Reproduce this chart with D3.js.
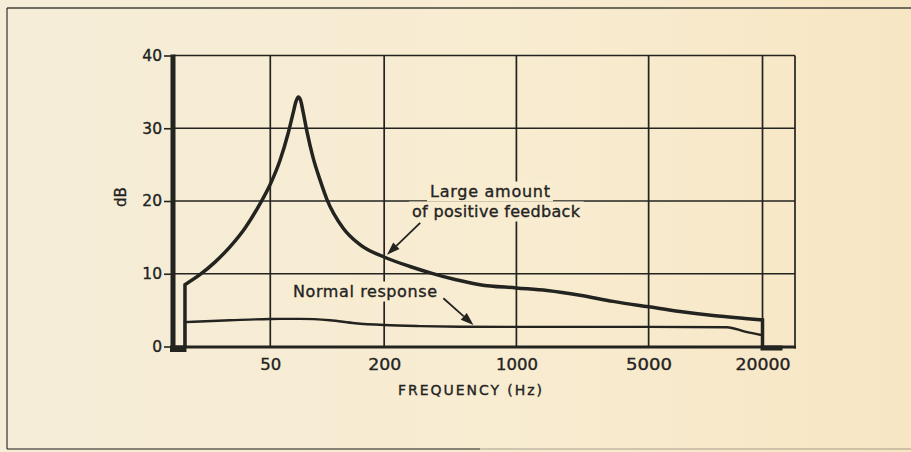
<!DOCTYPE html>
<html>
<head>
<meta charset="utf-8">
<script src="https://cdn.jsdelivr.net/npm/d3@7"></script>
<style>
  html, body { margin: 0; padding: 0; background: #f6ead0; }
  svg { display: block; }
  text { font-family: "DejaVu Sans", sans-serif; fill: #23231f; stroke: #23231f; stroke-width: 0.35px; }
</style>
</head>
<body>
<svg id="chart" width="911" height="452"></svg>
<script>
// Amplifier frequency response: normal vs. a large amount of positive feedback
const feedbackFreq = [17.7, 21.3, 25.5, 30.6, 36.8, 44.1, 50, 56.3, 62, 65.9, 68.4, 70.3, 72.2, 74.5, 78.2, 84.1, 91.6, 99.7, 121.2, 149, 204, 274, 358, 474, 642, 1000, 1451, 2169, 3240, 5000, 7325, 10950, 16160, 20000];
const feedbackDb   = [8.5, 9.9, 11.6, 13.7, 16.3, 19.6, 22.3, 25.6, 29.2, 32.0, 33.7, 34.3, 33.9, 32.3, 29.5, 26.0, 22.9, 20.2, 16.3, 14.0, 12.2, 11.0, 10.05, 9.2, 8.5, 8.05, 7.7, 7.05, 6.2, 5.45, 4.8, 4.25, 3.85, 3.65];

const normalFreq = [17.7, 30.6, 50, 71.8, 103.4, 140.3, 200, 309, 503, 1000, 5000, 12985, 16160, 20000];
const normalDb   = [3.35, 3.6, 3.78, 3.8, 3.6, 3.2, 2.95, 2.8, 2.72, 2.7, 2.7, 2.65, 2.05, 1.55];

const freqTicks = [50, 200, 1000, 5000, 20000];
const freqTickWidths = [21, 33, 42, 46, 55];
const dbTicks = [0, 10, 20, 30, 40];

const ink = "#23231f";

const svg = d3.select("#chart");
const W = 911, H = 452;
const plot = { left: 173, right: 795, top: 55.5, bottom: 346.5 };

const x = d3.scaleLog().domain([15.3, 29700]).range([plot.left, plot.right]);
const y = d3.scaleLinear().domain([0, 40]).range([plot.bottom, plot.top]);

// paper
const defs = svg.append("defs");
const grad = defs.append("linearGradient").attr("id", "paperGrad").attr("x1", 0).attr("x2", 1).attr("y1", 0).attr("y2", 0);
grad.append("stop").attr("offset", "0%").attr("stop-color", "#f5edd8");
grad.append("stop").attr("offset", "55%").attr("stop-color", "#f8ecd1");
grad.append("stop").attr("offset", "100%").attr("stop-color", "#f7e6c4");
svg.append("rect").attr("width", W).attr("height", H).attr("fill", "url(#paperGrad)");

// outer frame of the figure box
const frame = svg.append("g").attr("stroke", ink).attr("fill", "none");
frame.append("line").attr("x1", 7).attr("x2", W).attr("y1", 8).attr("y2", 8).attr("stroke-width", 1.6).attr("stroke-opacity", 0.85);
frame.append("line").attr("x1", 7).attr("x2", 7).attr("y1", 8).attr("y2", 449).attr("stroke-width", 1.4).attr("stroke-opacity", 0.8);
frame.append("line").attr("x1", 7).attr("x2", 480).attr("y1", 449).attr("y2", 449).attr("stroke-width", 1.6).attr("stroke-opacity", 0.7);
frame.append("line").attr("x1", 480).attr("x2", W).attr("y1", 449).attr("y2", 449).attr("stroke-width", 1.6).attr("stroke-opacity", 0.25);

// grid
const grid = svg.append("g").attr("stroke", ink).attr("stroke-width", 1.7);
grid.selectAll("line.h").data(dbTicks.filter(d => d > 0)).join("line")
  .attr("class", "h")
  .attr("x1", plot.left).attr("x2", plot.right)
  .attr("y1", d => y(d)).attr("y2", d => y(d));
grid.selectAll("line.v").data(freqTicks).join("line")
  .attr("class", "v")
  .attr("x1", d => x(d)).attr("x2", d => x(d))
  .attr("y1", y(0)).attr("y2", y(40));
grid.append("line")
  .attr("x1", plot.right).attr("x2", plot.right)
  .attr("y1", y(0) + 2).attr("y2", y(40));

// annotation text with paper-coloured knock-outs over the grid
const notes = svg.append("g");
function note(txt, px, py, len, size) {
  const t = notes.append("text")
    .attr("x", px).attr("y", py)
    .attr("font-size", size)
    .attr("textLength", len).attr("lengthAdjust", "spacing")
    .text(txt);
  const b = t.node().getBBox();
  notes.insert("rect", "text")
    .attr("x", b.x - 3).attr("y", b.y)
    .attr("width", b.width + 6).attr("height", b.height + 1)
    .attr("fill", "#f8ecd1");
  return t;
}
note("Large amount", 430, 196.5, 120, 16);
note("of positive feedback", 412, 216.5, 168, 16);
note("Normal response", 293, 296.5, 144, 16);

// axes
const yAxis = d3.axisLeft(y).tickValues(dbTicks).tickSize(9).tickPadding(2);
const gy = svg.append("g").attr("transform", `translate(${plot.left},0)`).call(yAxis);
gy.select(".domain").remove();
gy.selectAll(".tick line").attr("stroke", ink).attr("stroke-width", 1.6);
gy.selectAll(".tick text").attr("font-size", 15.5).attr("font-family", "DejaVu Sans").attr("fill", ink);

const xAxis = d3.axisBottom(x).tickValues(freqTicks).tickFormat(d3.format("d")).tickSize(0).tickPadding(13);
const gx = svg.append("g").attr("transform", `translate(0,${plot.bottom})`).call(xAxis);
gx.select(".domain").remove();
gx.selectAll(".tick text")
  .attr("font-size", 15).attr("font-family", "DejaVu Sans").attr("fill", ink)
  .attr("textLength", (d, i) => freqTickWidths[i]).attr("lengthAdjust", "spacingAndGlyphs");

// heavy left axis and baseline
svg.append("line")
  .attr("x1", plot.left).attr("x2", plot.left)
  .attr("y1", y(40) - 1).attr("y2", y(0) + 5)
  .attr("stroke", ink).attr("stroke-width", 5);
svg.append("line")
  .attr("x1", plot.left).attr("x2", plot.right + 1)
  .attr("y1", y(0) + 0.5).attr("y2", y(0) + 0.5)
  .attr("stroke", ink).attr("stroke-width", 3.2);

// response curves: each drops to 0 dB at the band edges
const line = d3.line()
  .x(d => x(d[0]))
  .y(d => y(d[1]))
  .curve(d3.curveMonotoneX);

function responsePath(freqs, dbs) {
  const pts = freqs.map((f, i) => [f, dbs[i]]);
  const f0 = freqs[0], fN = freqs[freqs.length - 1];
  return `M${x(f0)},${y(0)}L` + line(pts).slice(1) + `L${x(fN)},${y(0)}`;
}

svg.append("path")
  .attr("d", responsePath(normalFreq, normalDb))
  .attr("fill", "none").attr("stroke", ink)
  .attr("stroke-width", 2.4).attr("stroke-linejoin", "miter");

svg.append("path")
  .attr("d", responsePath(feedbackFreq, feedbackDb))
  .attr("fill", "none").attr("stroke", ink)
  .attr("stroke-width", 3.5).attr("stroke-linejoin", "miter");

// out-of-band stubs running along the baseline
const fLo = feedbackFreq[0], fHi = feedbackFreq[feedbackFreq.length - 1];
svg.append("rect")
  .attr("x", plot.left - 3).attr("y", y(0) - 1)
  .attr("width", x(fLo) - plot.left + 4.5).attr("height", 6.5)
  .attr("fill", ink);
svg.append("rect")
  .attr("x", x(fHi) - 2).attr("y", y(0) - 1)
  .attr("width", 22).attr("height", 5)
  .attr("fill", ink);

// leader arrows from the labels to the curves
const arrows = [
  { tail: [310, 17.0], tip: [207, 12.6] },
  { tail: [411, 6.63], tip: [593, 2.95] }
];
const ag = svg.append("g");
arrows.forEach(a => {
  const x1 = x(a.tail[0]), y1 = y(a.tail[1]);
  const x2 = x(a.tip[0]), y2 = y(a.tip[1]);
  const ang = Math.atan2(y2 - y1, x2 - x1);
  const L = 13, hw = 4.5;
  const bx = x2 - L * Math.cos(ang), by = y2 - L * Math.sin(ang);
  ag.append("line")
    .attr("x1", x1).attr("y1", y1).attr("x2", bx).attr("y2", by)
    .attr("stroke", ink).attr("stroke-width", 1.8);
  ag.append("path")
    .attr("d", `M${x2},${y2}L${bx - hw * Math.sin(ang)},${by + hw * Math.cos(ang)}L${bx + hw * Math.sin(ang)},${by - hw * Math.cos(ang)}Z`)
    .attr("fill", ink);
});

// axis titles
svg.append("text")
  .attr("transform", "translate(126,197) rotate(-90)")
  .attr("text-anchor", "middle")
  .attr("font-size", 15)
  .text("dB");
svg.append("text")
  .attr("x", 398).attr("y", 395)
  .attr("font-size", 14)
  .attr("textLength", 144).attr("lengthAdjust", "spacing")
  .text("FREQUENCY (Hz)");
</script>
</body>
</html>
